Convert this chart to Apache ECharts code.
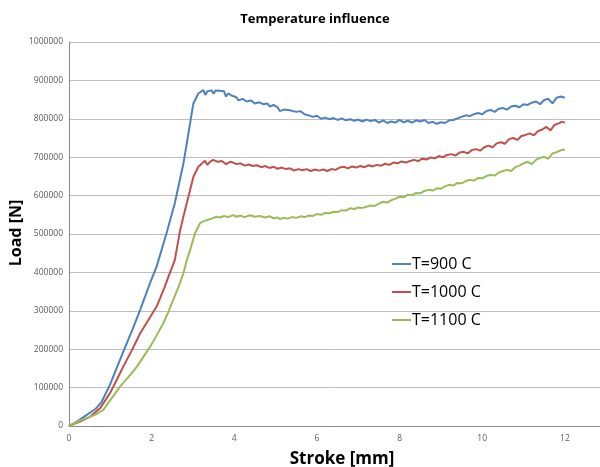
<!DOCTYPE html>
<html>
<head>
<meta charset="utf-8">
<script src="https://cdn.jsdelivr.net/npm/echarts@6/dist/echarts.min.js"></script>
<style>
html,body{margin:0;padding:0;background:#fff;}
#chart{width:600px;height:467px;}
</style>
</head>
<body>
<div id="chart"></div>
<script>
// Stroke [mm] / Load [N] pairs
var seriesNames = ['T=900 C', 'T=1000 C', 'T=1100 C'];
var t900 = [[0,0],[0.2,12000],[0.43,29000],[0.65,45000],[0.79,63000],[0.99,107000],[1.17,155000],[1.35,203000],[1.54,252000],[1.72,302000],[1.96,372000],[2.12,415000],[2.36,502000],[2.56,580000],[2.68,640000],[2.77,684000],[2.89,762000],[3.01,840000],[3.13,866000],[3.25,875000],[3.3,862000],[3.35,872000],[3.45,874000],[3.5,865000],[3.55,874000],[3.65,873000],[3.75,872000],[3.8,858000],[3.85,866000],[3.95,860000],[4.05,856000],[4.1,848000],[4.2,852000],[4.3,845000],[4.4,848000],[4.5,840000],[4.6,843000],[4.7,838000],[4.8,840000],[4.86,832000],[4.95,836000],[5.05,830000],[5.1,820000],[5.2,824000],[5.35,822000],[5.5,818000],[5.6,820000],[5.7,812000],[5.8,809000],[5.9,805000],[6.0,808000],[6.1,800000],[6.2,803000],[6.3,799000],[6.4,802000],[6.5,797000],[6.6,801000],[6.7,796000],[6.8,799000],[6.9,795000],[7.0,798000],[7.1,793000],[7.2,798000],[7.3,794000],[7.4,797000],[7.5,790000],[7.6,796000],[7.7,789000],[7.8,793000],[7.9,790000],[8.0,797000],[8.1,791000],[8.2,795000],[8.3,790000],[8.4,796000],[8.5,793000],[8.6,797000],[8.7,789000],[8.8,792000],[8.9,787000],[9.0,791000],[9.1,789000],[9.2,796000],[9.3,797000],[9.4,801000],[9.5,805000],[9.6,809000],[9.7,807000],[9.8,812000],[9.9,815000],[10.0,812000],[10.1,820000],[10.2,823000],[10.3,818000],[10.4,826000],[10.5,828000],[10.6,824000],[10.7,832000],[10.8,834000],[10.9,830000],[11.0,838000],[11.1,836000],[11.2,842000],[11.3,845000],[11.4,838000],[11.5,849000],[11.6,852000],[11.7,840000],[11.8,855000],[11.9,858000],[12.0,855000]];
var t1000 = [[0,0],[0.25,11000],[0.51,24000],[0.75,46000],[0.99,85000],[1.15,119000],[1.31,154000],[1.52,197000],[1.72,241000],[1.92,276000],[2.12,311000],[2.3,358000],[2.44,398000],[2.56,432000],[2.69,510000],[2.79,555000],[2.89,597000],[3.01,649000],[3.13,675000],[3.29,691000],[3.35,680000],[3.41,688000],[3.49,693000],[3.6,688000],[3.7,690000],[3.8,682000],[3.9,688000],[3.97,686000],[4.05,682000],[4.15,684000],[4.25,678000],[4.35,681000],[4.45,677000],[4.55,679000],[4.65,674000],[4.75,677000],[4.85,672000],[4.95,675000],[5.05,670000],[5.15,673000],[5.25,669000],[5.35,671000],[5.45,665000],[5.55,669000],[5.65,666000],[5.75,669000],[5.85,664000],[5.95,668000],[6.05,665000],[6.15,668000],[6.25,664000],[6.35,669000],[6.45,667000],[6.55,673000],[6.65,675000],[6.75,671000],[6.85,676000],[6.95,673000],[7.05,677000],[7.15,674000],[7.25,679000],[7.35,676000],[7.45,680000],[7.55,678000],[7.65,683000],[7.75,680000],[7.85,686000],[7.95,684000],[8.05,689000],[8.15,686000],[8.25,690000],[8.35,693000],[8.45,690000],[8.55,696000],[8.65,694000],[8.75,699000],[8.85,697000],[8.95,703000],[9.05,700000],[9.15,706000],[9.25,708000],[9.35,704000],[9.45,712000],[9.55,714000],[9.65,710000],[9.75,719000],[9.85,721000],[9.95,717000],[10.05,726000],[10.15,730000],[10.25,726000],[10.35,736000],[10.45,739000],[10.55,735000],[10.65,747000],[10.75,750000],[10.85,745000],[10.95,755000],[11.05,758000],[11.15,762000],[11.25,757000],[11.35,768000],[11.45,772000],[11.55,779000],[11.65,770000],[11.75,784000],[11.85,788000],[11.92,792000],[12.0,790000]];
var t1100 = [[0,0],[0.27,14000],[0.63,29000],[0.83,42000],[1.03,72000],[1.23,102000],[1.44,128000],[1.64,154000],[1.8,180000],[1.96,206000],[2.12,236000],[2.28,267000],[2.4,296000],[2.52,328000],[2.65,362000],[2.77,398000],[2.85,432000],[2.93,458000],[3.05,502000],[3.17,528000],[3.25,533000],[3.33,536000],[3.45,540000],[3.57,545000],[3.65,543000],[3.75,547000],[3.85,544000],[3.97,549000],[4.05,545000],[4.15,548000],[4.25,544000],[4.38,549000],[4.5,545000],[4.62,547000],[4.75,543000],[4.86,546000],[4.95,541000],[5.05,543000],[5.1,539000],[5.2,542000],[5.3,540000],[5.4,544000],[5.5,542000],[5.6,546000],[5.7,544000],[5.8,548000],[5.9,547000],[6.0,552000],[6.1,550000],[6.2,555000],[6.3,554000],[6.4,558000],[6.5,557000],[6.6,562000],[6.7,561000],[6.8,567000],[6.9,565000],[7.0,569000],[7.1,568000],[7.2,571000],[7.3,574000],[7.4,573000],[7.5,579000],[7.6,584000],[7.7,582000],[7.8,588000],[7.9,592000],[8.0,597000],[8.1,596000],[8.2,602000],[8.3,601000],[8.4,607000],[8.5,606000],[8.6,612000],[8.7,615000],[8.8,613000],[8.9,619000],[9.0,618000],[9.1,624000],[9.2,628000],[9.3,626000],[9.4,633000],[9.5,632000],[9.6,638000],[9.7,641000],[9.8,639000],[9.9,646000],[10.0,645000],[10.1,651000],[10.2,654000],[10.3,652000],[10.4,660000],[10.5,664000],[10.6,667000],[10.7,664000],[10.8,674000],[10.9,678000],[11.0,684000],[11.1,688000],[11.2,682000],[11.3,693000],[11.4,698000],[11.5,701000],[11.6,696000],[11.7,710000],[11.8,713000],[11.9,718000],[12.0,720000]];
var colors = ['#4F81BD', '#C0504D', '#9BBB59'];
var chartTitle = 'Temperature influence';
var xName = 'Stroke [mm]';
var yName = 'Load [N]';

var chart = echarts.init(document.getElementById('chart'), null, {renderer: 'canvas'});
var font = '"Open Sans", "Noto Sans", sans-serif';
function mk(name, data, color) {
  return {name: name, type: 'line', data: data, symbol: 'none', smooth: false,
    lineStyle: {color: color, width: 2}, itemStyle: {color: color}, animation: false};
}
chart.setOption({
  animation: false,
  backgroundColor: '#ffffff',
  grid: {left: 69, top: 42, right: 0, bottom: 41, containLabel: false},
  legend: {orient: 'vertical', left: 387, top: 250, icon: 'rect', itemWidth: 19, itemHeight: 2, itemGap: 10,
    data: seriesNames,
    textStyle: {fontFamily: font, fontSize: 16, color: '#000', padding: [0,0,0,-4], lineHeight: 18}},
  xAxis: {type: 'value', min: 0, max: 12.85, interval: 2,
    axisLine: {show: true, lineStyle: {color: '#888888', width: 1}},
    axisTick: {show: false}, splitLine: {show: false},
    axisLabel: {fontFamily: font, fontSize: 8.5, color: '#595959', margin: 8, showMaxLabel: false}},
  yAxis: {type: 'value', min: 0, max: 1000000, interval: 100000,
    axisLine: {show: true, lineStyle: {color: '#888888', width: 1}},
    axisTick: {show: false},
    splitLine: {show: true, lineStyle: {color: '#BFBFBF', width: 1}},
    axisLabel: {fontFamily: font, fontSize: 8.5, color: '#595959', margin: 6,
      formatter: function (v) { return String(v); }}},
  graphic: [
    {type: 'text', x: 315, y: 19, style: {text: chartTitle, font: 'bold 13px ' + font, fill: '#000', textAlign: 'center', textVerticalAlign: 'middle'}},
    {type: 'text', x: 342, y: 459, style: {text: xName, font: 'bold 17px ' + font, fill: '#000', textAlign: 'center', textVerticalAlign: 'middle'}},
    {type: 'text', x: 16, y: 233, rotation: Math.PI / 2, style: {text: yName, font: 'bold 16px ' + font, fill: '#000', textAlign: 'center', textVerticalAlign: 'middle'}}
  ],
  series: [mk(seriesNames[0], t900, colors[0]), mk(seriesNames[1], t1000, colors[1]), mk(seriesNames[2], t1100, colors[2])]
});
</script>
</body>
</html>
